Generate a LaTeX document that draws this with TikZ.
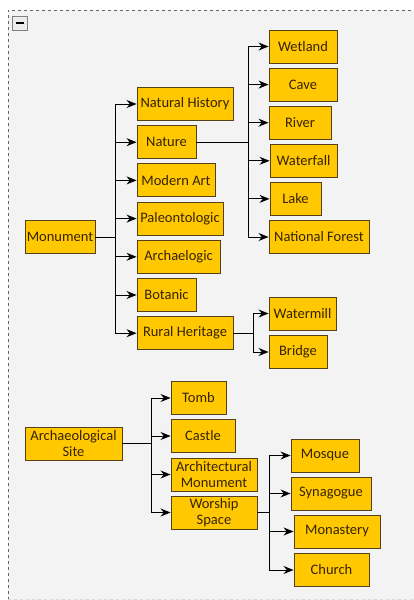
\documentclass[tikz,border=0pt]{standalone}
\usepackage{fontspec}
\setmainfont{Carlito}
\usepackage{tikz}
\usetikzlibrary{arrows.meta}
\definecolor{boxfill}{RGB}{255,200,0}
\definecolor{boxline}{RGB}{85,65,25}
\definecolor{boxtext}{RGB}{55,35,0}
\definecolor{panel}{RGB}{243,243,243}
\begin{document}
\begin{tikzpicture}[x=1pt, y=-1pt,
  box/.style={draw=boxline, fill=boxfill, text=boxtext, line width=0.9pt,
    minimum height=33, inner sep=0.5pt, align=center,
    font=\fontsize{14.5}{15.5}\selectfont},
  arr/.style={line width=1pt, -{Stealth[length=10pt, width=8pt]}}]
  \useasboundingbox (0,0) rectangle (414,600);
  % Marco
  \fill[panel] (8,10) rectangle (414,600);
  \draw[gray!80!black, dashed, line width=0.8pt] (8,600) -- (8,10) -- (414,10);
  \draw[gray!30, dashed, line width=0.8pt] (8,599) -- (414,599);
  \draw[gray, fill=gray!15] (12,16) rectangle (27,30);
  \draw[line width=2pt] (15.5,23) -- (23.5,23);

  % Monument
  \node[box, minimum width=70] (monument) at (60,237) {Monument};
  \node[box, minimum width=96] (nathist) at (185,104) {Natural History};
  \node[box, minimum width=59] (nature) at (166.5,142.2) {Nature};
  \node[box, minimum width=78] (modart) at (176,180.4) {Modern Art};
  \node[box, minimum width=86] (paleo) at (180,218.6) {Paleontologic};
  \node[box, minimum width=83] (archae) at (178.5,256.8) {Archaelogic};
  \node[box, minimum width=59] (botanic) at (166.5,295) {Botanic};
  \node[box, minimum width=96] (rural) at (185,333.2) {Rural Heritage};
  \foreach \c in {nathist,nature,modart,paleo,archae,botanic,rural}
    \draw[arr] (monument.east) -- +(20,0) |- (\c.west);

  % Nature
  \node[box, minimum width=68] (wetland) at (303,46.5) {Wetland};
  \node[box, minimum width=68] (cave) at (303,84.6) {Cave};
  \node[box, minimum width=62] (river) at (300,122.7) {River};
  \node[box, minimum width=67] (waterfall) at (303.5,160.8) {Waterfall};
  \node[box, minimum width=51] (lake) at (295.5,198.9) {Lake};
  \node[box, minimum width=100] (natforest) at (319,237) {National Forest};
  \foreach \c in {wetland,cave,river,waterfall,lake,natforest}
    \draw[arr] (nature.east) -- +(52,0) |- (\c.west);

  % Rural Heritage
  \node[box, minimum width=67] (watermill) at (302.5,313.5) {Watermill};
  \node[box, minimum width=58] (bridge) at (298,352) {Bridge};
  \foreach \c in {watermill,bridge}
    \draw[arr] (rural.east) -- +(20,0) |- (\c.west);

  % Archaeological Site
  \node[box, minimum width=97] (archsite) at (73.5,443.5) {Archaeological\\Site};
  \node[box, minimum width=55] (tomb) at (198.5,398) {Tomb};
  \node[box, minimum width=64] (castle) at (203,436) {Castle};
  \node[box, minimum width=86] (archmon) at (214,474.5) {Architectural\\Monument};
  \node[box, minimum width=86] (worship) at (214,512.5) {Worship\\Space};
  \foreach \c in {tomb,castle,archmon,worship}
    \draw[arr] (archsite.east) -- +(29,0) |- (\c.west);

  % Worship Space
  \node[box, minimum width=68] (mosque) at (325,455.5) {Mosque};
  \node[box, minimum width=80] (synagogue) at (331,493.5) {Synagogue};
  \node[box, minimum width=86] (monastery) at (337,531.5) {Monastery};
  \node[box, minimum width=75] (church) at (331.5,570) {Church};
  \foreach \c in {mosque,synagogue,monastery,church}
    \draw[arr] (worship.east) -- +(12,0) |- (\c.west);
\end{tikzpicture}
\end{document}
